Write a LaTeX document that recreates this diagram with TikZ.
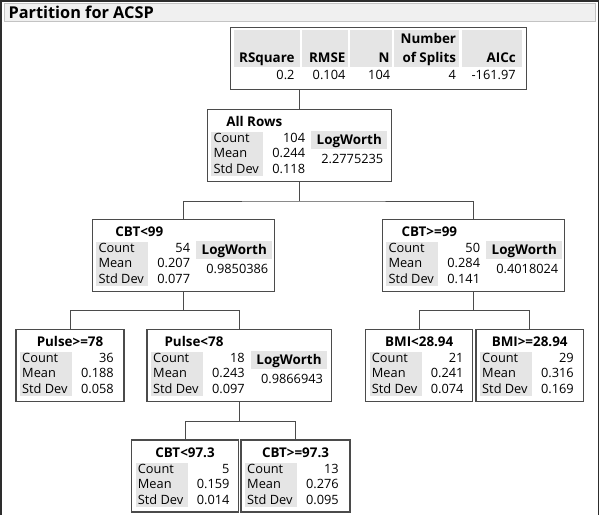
\documentclass[tikz,border=0pt]{standalone}
\usepackage{fontspec}
\setmainfont{Open Sans}
\usetikzlibrary{calc}
\definecolor{cellgray}{RGB}{229,229,229}
\definecolor{boxline}{RGB}{75,75,75}
\definecolor{titlefill}{RGB}{240,240,240}
\definecolor{titleline}{RGB}{195,195,195}
\definecolor{framecol}{RGB}{45,45,45}
\newcommand\fsn{\fontsize{12.8}{15}\selectfont}
\newcommand\fsb{\fontsize{13.4}{15}\selectfont\bfseries}
\newcommand\fsh{\fontsize{16.3}{18}\selectfont\bfseries}
\tikzset{
  x=1pt, y=-1pt,
  box/.style={draw=boxline, line width=1.1pt, fill=white, minimum height=72pt, inner sep=0pt, outer sep=0pt},
  lbl/.style={anchor=base west, inner sep=0pt, font=\fsn},
  val/.style={anchor=base east, inner sep=0pt, font=\fsn},
  ttl/.style={anchor=base, inner sep=0pt, font=\fsb},
  hdr/.style={anchor=base east, inner sep=0pt, font=\fsb},
  conn/.style={draw=boxline, line width=0.9pt},
}
% name, left, top, width, title, count, mean, sd
\newcommand\leafbox[8]{%
  \node[box, minimum width=#4pt, anchor=north west] (#1) at (#2,#3) {};
  \fill[cellgray] ($(#1.north west)+(4,22.5)$) rectangle ($(#1.north west)+(56,66.5)$);
  \node[ttl] (#1-title) at ($(#1.north)+(0,17)$) {#5};
  \node[lbl] (#1-cl) at ($(#1.north west)+(6,33)$) {Count};
  \node[lbl] (#1-ml) at ($(#1.north west)+(6,48.5)$) {Mean};
  \node[lbl] (#1-sl) at ($(#1.north west)+(6,64)$) {Std Dev};
  \node[val] (#1-cv) at ($(#1.north west)+(98,33)$) {#6};
  \node[val] (#1-mv) at ($(#1.north west)+(98,48.5)$) {#7};
  \node[val] (#1-sv) at ($(#1.north west)+(98,64)$) {#8};
}
% name, left, top, width, title, count, mean, sd, logworth
\newcommand\splitbox[9]{%
  \node[box, minimum width=#4pt, anchor=north west] (#1) at (#2,#3) {};
  \fill[cellgray] ($(#1.north west)+(4,22.5)$) rectangle ($(#1.north west)+(56,66.5)$);
  \fill[cellgray] ($(#1.north west)+(104,22)$) rectangle ($(#1.north west)+(180,40)$);
  \node[ttl] (#1-title) at ($(#1.north west)+(47,17)$) {#5};
  \node[lbl] (#1-cl) at ($(#1.north west)+(6,33)$) {Count};
  \node[lbl] (#1-ml) at ($(#1.north west)+(6,48.5)$) {Mean};
  \node[lbl] (#1-sl) at ($(#1.north west)+(6,64)$) {Std Dev};
  \node[val] (#1-cv) at ($(#1.north west)+(98,33)$) {#6};
  \node[val] (#1-mv) at ($(#1.north west)+(98,48.5)$) {#7};
  \node[val] (#1-sv) at ($(#1.north west)+(98,64)$) {#8};
  \node[ttl] (#1-lwl) at ($(#1.north west)+(142,35.5)$) {LogWorth};
  \node[anchor=base, inner sep=0pt, font=\fsn] (#1-lwv) at ($(#1.north west)+(145,54.5)$) {#9};
}
\begin{document}
\begin{tikzpicture}
\useasboundingbox (0,0) rectangle (600,515);
% outer frame
\draw[framecol, line width=1.3pt] (1,515) -- (1,1) -- (598.8,1) -- (598.8,515);
% title bar
\draw[fill=titlefill, draw=titleline, line width=0.8pt] (4.5,3) rectangle (595,21);
\node[anchor=base west, inner sep=0pt, font=\fsh] (title) at (8.4,18.3) {Partition for ACSP};

% summary table
\node[box, minimum width=295.5pt, minimum height=62pt, anchor=north west] (stats) at (230.7,27.3) {};
\foreach \a/\b in {3.1/69, 70.9/117.6, 119.5/161.6, 163.5/228.5, 231.2/291.7}
  \fill[cellgray] ($(stats.north west)+(\a,2.7)$) rectangle ($(stats.north west)+(\b,39.7)$);
\node[hdr] (h-num) at ($(stats.north west)+(225.5,16.2)$) {Number};
\node[hdr] (h-rsq) at ($(stats.north west)+(64,35.2)$) {RSquare};
\node[hdr] (h-rmse) at ($(stats.north west)+(114.9,35.2)$) {RMSE};
\node[hdr] (h-n) at ($(stats.north west)+(158.9,35.2)$) {N};
\node[hdr] (h-spl) at ($(stats.north west)+(225.5,35.2)$) {of Splits};
\node[hdr] (h-aicc) at ($(stats.north west)+(285.2,35.2)$) {AICc};
\node[val] (v-rsq) at ($(stats.north west)+(64,52.2)$) {0.2};
\node[val] (v-rmse) at ($(stats.north west)+(114.9,52.2)$) {0.104};
\node[val] (v-n) at ($(stats.north west)+(159.7,52.2)$) {104};
\node[val] (v-spl) at ($(stats.north west)+(225.5,52.2)$) {4};
\node[val] (v-aicc) at ($(stats.north west)+(285.2,52.2)$) {-161.97};

% tree boxes
\splitbox{allrows}{207.3}{109.3}{184}{All Rows}{104}{0.244}{0.118}{2.2775235}
\splitbox{cbtlt}{92.3}{219.3}{182}{CBT<99}{54}{0.207}{0.077}{0.9850386}
\splitbox{cbtge}{382.3}{219.3}{182}{CBT>=99}{50}{0.284}{0.141}{0.4018024}
\leafbox{pulsege}{16}{329.3}{108}{Pulse>=78}{36}{0.188}{0.058}
\splitbox{pulselt}{147}{329.3}{184.8}{Pulse<78}{18}{0.243}{0.097}{0.9866943}
\leafbox{bmilt}{365.7}{329.3}{107}{BMI<28.94}{21}{0.241}{0.074}
\leafbox{bmige}{476}{329.3}{107.3}{BMI>=28.94}{29}{0.316}{0.169}
\leafbox{cbtlow}{131.7}{440}{106.6}{CBT<97.3}{5}{0.159}{0.014}
\leafbox{cbthigh}{241}{440}{109}{CBT>=97.3}{13}{0.276}{0.095}

% connectors
\draw[conn] (stats.south -| allrows.north) -- (allrows.north);
\coordinate (j1) at ($(allrows.south)+(0,19.7)$);
\draw[conn] (allrows.south) -- (j1);
\draw[conn] (cbtlt.north) |- (j1) -| (cbtge.north);
\coordinate (j2) at ($(cbtlt.south)+(0,19)$);
\draw[conn] (cbtlt.south) -- (j2);
\draw[conn] (pulsege.north) |- (j2) -| (pulselt.north);
\coordinate (j3) at ($(cbtge.south)+(0,19)$);
\draw[conn] (cbtge.south) -- (j3);
\draw[conn] (bmilt.north) |- (j3) -| (bmige.north);
\coordinate (j4) at ($(pulselt.south)+(0,20)$);
\draw[conn] (pulselt.south) -- (j4);
\draw[conn] (cbtlow.north) |- (j4) -| (cbthigh.north);
\end{tikzpicture}
\end{document}
